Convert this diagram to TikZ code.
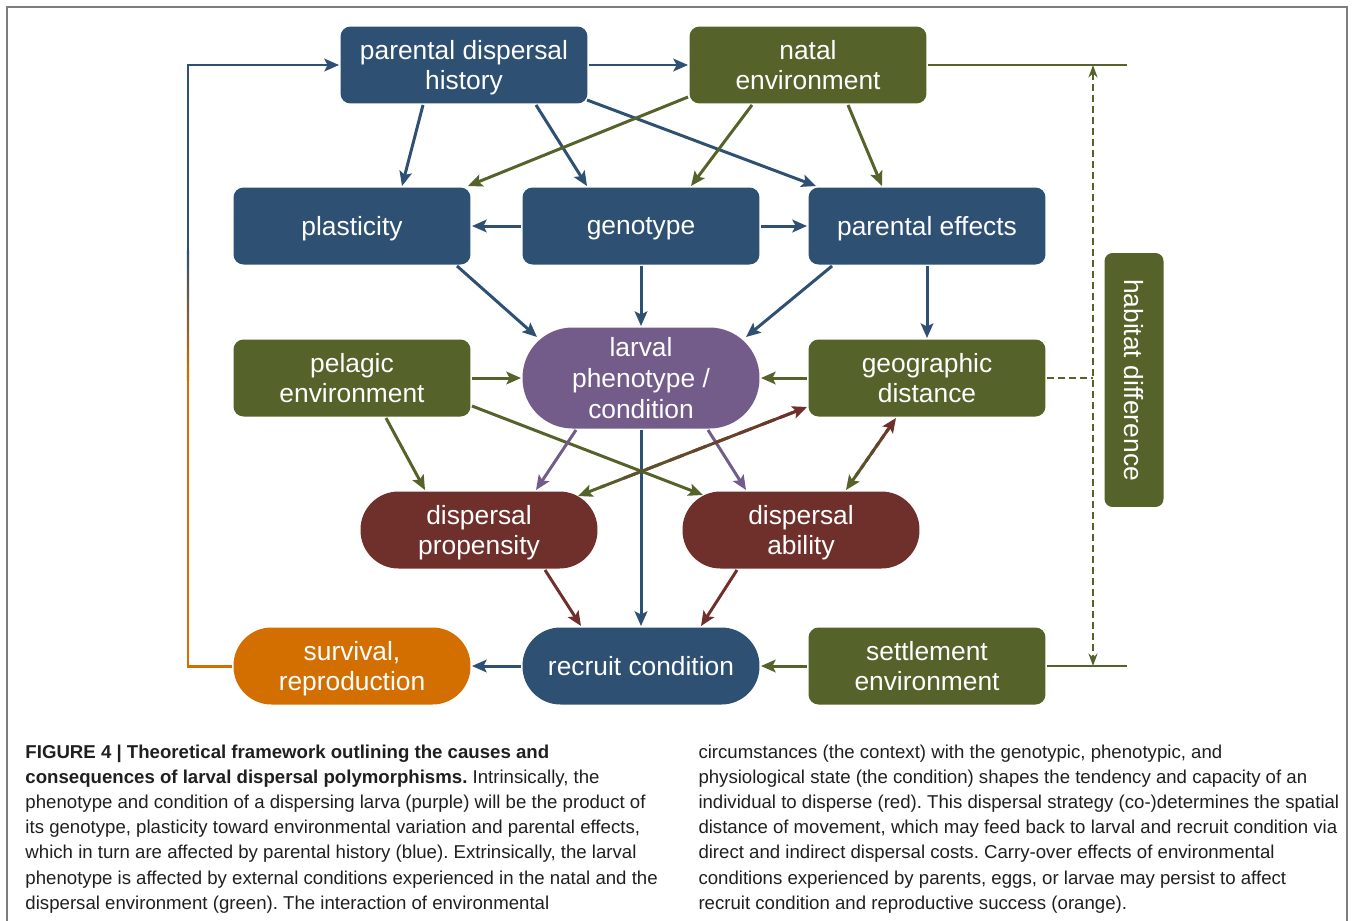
\documentclass[tikz,border=0pt]{standalone}
\usepackage{fontspec}
\setmainfont{Liberation Sans}
\usepackage{xcolor}
\usepackage{tikz}
\usetikzlibrary{arrows.meta, positioning, calc}

\definecolor{dblue}{RGB}{45,80,115}
\definecolor{dgreen}{RGB}{85,98,42}
\definecolor{dpurple}{RGB}{115,92,138}
\definecolor{dred}{RGB}{111,48,44}
\definecolor{dorange}{RGB}{211,111,0}
\definecolor{framegray}{RGB}{125,125,125}

\tikzset{
  box/.style={rectangle, rounded corners=0.2cm, text=white, align=center,
    minimum width=4.74cm, minimum height=1.54cm, inner sep=0pt, text depth=0pt,
    font=\fontsize{15}{17.5}\selectfont},
  bluebox/.style={box, fill=dblue},
  greenbox/.style={box, fill=dgreen},
  pill/.style={box, rounded corners=0.76cm},
  redpill/.style={pill, fill=dred},
  caption/.style={anchor=north west, align=left, inner sep=0pt, text=black!88,
    font=\fontsize{10.6}{14.35}\selectfont\frenchspacing}
}

\begin{document}
\begin{tikzpicture}[x=0.02cm, y=-0.02cm,
    >={Stealth[length=2.9mm, width=2.5mm, inset=0.6mm]},
    line width=1.7pt]
  \useasboundingbox (0,0) rectangle (1354,920);
  \draw[framegray, line width=1pt] (7,940) -- (7,7) -- (1347,7) -- (1347,940);

  \node at (464,65) (pdh) [bluebox, minimum width=4.94cm] {parental dispersal\\history};
  \node at (808,65) (natal) [greenbox] {natal\\environment};
  \node at (352,226) (plast) [bluebox] {plasticity};
  \node at (641,226) (geno) [bluebox] {genotype};
  \node at (927,226) (peff) [bluebox] {parental effects};
  \node at (352,378) (pelag) [greenbox] {pelagic\\environment};
  \node at (641,378) (larv) [box, fill=dpurple, minimum height=2.02cm, rounded corners=1cm] {larval\\phenotype /\\condition};
  \node at (927,378) (geog) [greenbox] {geographic\\distance};
  \node at (479,530) (prop) [redpill] {dispersal\\propensity};
  \node at (801,530) (abil) [redpill] {dispersal\\ability};
  \node at (352,666) (surv) [pill, fill=dorange] {survival,\\reproduction};
  \node at (641,666) (recr) [pill, fill=dblue] {recruit condition};
  \node at (927,666) (settl) [greenbox] {settlement\\environment};
  \node at (1134,380) (habit) [greenbox, rotate=-90, minimum width=5.08cm,
    minimum height=1.18cm, rounded corners=0.16cm] {habitat difference};

  % parental history (blue)
  \draw[->, dblue] (pdh) -- (natal);
  \draw[->, dblue] ($(pdh.south)+(-41,0)$) -- ($(plast.north)+(50,0)$);
  \draw[->, dblue] ($(pdh.south)+(72,0)$) -- ($(geno.north)+(-54,0)$);
  \draw[->, dblue] ($(pdh.south east)+(-2,-5)$) -- ($(peff.north west)+(9,0)$);
  \draw[->, dblue] (geno) -- (plast);
  \draw[->, dblue] (geno) -- (peff);
  \draw[->, dblue] ($(plast.south east)+(-15,0)$) -- ($(larv.center)+(-104,-41)$);
  \draw[->, dblue] (geno) -- (larv);
  \draw[->, dblue] ($(peff.south west)+(25,0)$) -- ($(larv.center)+(105,-41)$);
  \draw[->, dblue] (peff) -- (geog);
  \draw[->, dblue] (larv) -- (recr);
  \draw[->, dblue] (recr) -- (surv);

  % environment (green)
  \draw[->, dgreen] ($(natal.south west)+(0,-8)$) -- ($(plast.north east)+(-4,0)$);
  \draw[->, dgreen] ($(natal.south)+(-56,0)$) -- ($(geno.north)+(50,0)$);
  \draw[->, dgreen] ($(natal.south)+(40,0)$) -- ($(peff.north)+(-45,0)$);
  \draw[->, dgreen] (pelag) -- (larv);
  \draw[->, dgreen] (geog) -- (larv);
  \draw[->, dgreen] ($(pelag.south)+(34,0)$) -- ($(prop.north)+(-54,0)$);
  \draw[->, dgreen] ($(pelag.east)+(0,28)$) -- ($(abil.center)+(-98,-35)$);
  \draw[->, dgreen] (settl) -- (recr);

  % larva (purple) and dispersal (red)
  \draw[->, dpurple] ($(larv.south)+(-65,0)$) -- ($(prop.north)+(57,0)$);
  \draw[->, dpurple] ($(larv.south)+(67,0)$) -- ($(abil.north)+(-55,0)$);
  \draw[->, dred] ($(prop.south)+(66,0)$) -- ($(recr.north)+(-60,0)$);
  \draw[->, dred] ($(abil.south)+(-64,0)$) -- ($(recr.north)+(60,0)$);

  % two-way links with geographic distance
  \coordinate (pg1) at ($(prop.center)+(99,-34)$);
  \coordinate (pg2) at ($(geog.south west)+(0,-11)$);
  \coordinate (ag1) at ($(abil.north)+(45,0)$);
  \coordinate (ag2) at ($(geog.south)+(-31,0)$);
  \foreach \s/\e in {pg1/pg2, ag1/ag2} {
    \foreach \i [evaluate=\i as \a using \i/10,
                 evaluate=\i as \b using (\i+1.6)/10,
                 evaluate=\i as \p using int(\i*10+5)] in {1,...,8}
      \draw[dred!\p!dgreen] ($(\s)!\a!(\e)$) -- ($(\s)!\b!(\e)$);
    \draw[->, dgreen] ($(\s)!0.12!(\e)$) -- (\s);
    \draw[->, dred] ($(\s)!0.88!(\e)$) -- (\e);
  }

  % feedback to parents
  \coordinate (fbB) at (188,666);
  \coordinate (fbL) at (188,380);
  \coordinate (fbU) at (188,250);
  \coordinate (fbT) at (188,65);
  \draw[dorange] (surv.west) -- (fbB) -- (fbL);
  \shade[top color=dblue, bottom color=dorange] ($(fbL)+(-1.2,0)$) rectangle ($(fbU)+(1.2,0)$);
  \draw[->, dblue] (fbU) -- (fbT) -- (pdh.west);

  % habitat difference
  \coordinate (hT) at (1127,65);
  \coordinate (hB) at (1127,666);
  \coordinate (dT) at (1093,65);
  \coordinate (dB) at (1093,666);
  \coordinate (dM) at (1093,378);
  \draw[dgreen, line width=0.9pt] (natal.east) -- (hT);
  \draw[dgreen, line width=0.9pt] (settl.east) -- (hB);
  \draw[{Stealth[length=2.5mm, width=1.8mm]}-{Stealth[length=2.5mm, width=1.8mm]},
    dgreen, line width=1.3pt, dash pattern=on 0.14cm off 0.08cm] (dT) -- (dB);
  \draw[dgreen, line width=1.3pt, dash pattern=on 0.14cm off 0.08cm] (geog.east) -- (dM);

  % caption
  \node at (24,743) (capl) [caption] {%
    \textbf{FIGURE 4 | Theoretical framework outlining the causes and}\\
    \textbf{consequences of larval dispersal polymorphisms.} Intrinsically, the\\
    phenotype and condition of a dispersing larva (purple) will be the product of\\
    its genotype, plasticity toward environmental variation and parental effects,\\
    which in turn are affected by parental history (blue). Extrinsically, the larval\\
    phenotype is affected by external conditions experienced in the natal and the\\
    dispersal environment (green). The interaction of environmental};
  \node at (697,743) (capr) [caption] {%
    circumstances (the context) with the genotypic, phenotypic, and\\
    physiological state (the condition) shapes the tendency and capacity of an\\
    individual to disperse (red). This dispersal strategy (co-)determines the spatial\\
    distance of movement, which may feed back to larval and recruit condition via\\
    direct and indirect dispersal costs. Carry-over effects of environmental\\
    conditions experienced by parents, eggs, or larvae may persist to affect\\
    recruit condition and reproductive success (orange).};
\end{tikzpicture}
\end{document}
